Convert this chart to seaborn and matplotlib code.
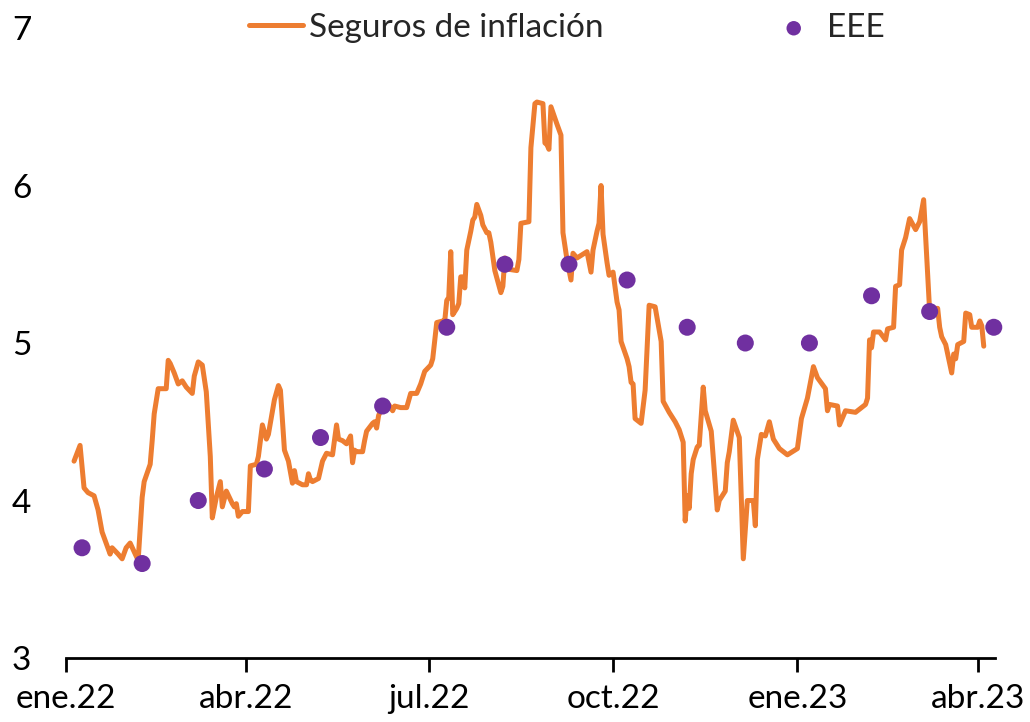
import matplotlib
matplotlib.use("Agg")
import matplotlib.pyplot as plt
import pandas as pd
import seaborn as sns

# Daily inflation-swap implied expectation (days counted from 1 Jan 2022)
line_days = [4, 7, 9, 11, 14, 16, 18, 22, 23, 26, 28, 30, 32, 36, 38, 39, 42, 43, 44, 46,
             50, 51, 52, 54, 56, 58, 60, 63, 64, 66, 68, 70, 72, 73, 75, 77, 78, 80, 83, 84,
             85, 86, 88, 91, 92, 95, 96, 98, 100, 101, 104, 106, 107, 109, 111, 113, 114, 115, 118, 120,
             121, 122, 123, 126, 128, 130, 133, 135, 136, 138, 140, 142, 143, 144, 145, 148, 149, 150, 153, 154,
             155, 156, 158, 161, 163, 164, 167, 170, 172, 175, 177, 179, 182, 183, 185, 188, 189, 190, 191, 192,
             193, 195, 196, 197, 198, 199, 200, 202, 203, 204, 205, 207, 208, 210, 211, 212, 214, 217, 218, 219,
             220, 225, 226, 227, 231, 232, 234, 235, 238, 239, 240, 241, 242, 245, 247, 248, 250, 252, 253, 255,
             260, 262, 263, 265, 266, 267, 268, 270, 271, 272, 273, 275, 276, 277, 280, 281, 282, 283, 284, 287,
             289, 291, 294, 297, 298, 301, 304, 306, 308, 309, 310, 311, 312, 313, 315, 316, 318, 319, 322, 325,
             326, 329, 330, 331, 333, 336, 338, 340, 343, 344, 345, 347, 349, 351, 353, 356, 360, 365, 367, 370,
             373, 375, 379, 380, 381, 385, 386, 389, 394, 399, 400, 401, 402, 403, 406, 409, 410, 413, 414, 416,
             417, 419, 421, 424, 426, 428, 430, 431, 432, 435, 436, 437, 439, 440, 442, 443, 444, 445, 448, 449,
             451, 452, 455, 456, 457, 458]
line_values = [4.25, 4.35, 4.08, 4.05, 4.03, 3.94, 3.80, 3.66, 3.70, 3.66, 3.63, 3.70, 3.73, 3.62, 4.02, 4.12, 4.23, 4.38, 4.55, 4.71,
               4.71, 4.89, 4.87, 4.81, 4.74, 4.76, 4.72, 4.68, 4.79, 4.88, 4.86, 4.69, 4.28, 3.89, 4.02, 4.12, 3.96, 4.06, 3.98, 3.96,
               3.98, 3.90, 3.93, 3.93, 4.22, 4.23, 4.28, 4.48, 4.39, 4.42, 4.64, 4.73, 4.70, 4.32, 4.25, 4.11, 4.19, 4.12, 4.10, 4.10,
               4.17, 4.13, 4.12, 4.14, 4.25, 4.30, 4.29, 4.48, 4.39, 4.38, 4.36, 4.41, 4.24, 4.32, 4.31, 4.31, 4.38, 4.44, 4.49, 4.50,
               4.46, 4.54, 4.60, 4.61, 4.57, 4.60, 4.59, 4.59, 4.68, 4.68, 4.74, 4.82, 4.86, 4.90, 5.13, 5.14, 5.14, 5.27, 5.29, 5.58,
               5.18, 5.22, 5.25, 5.42, 5.42, 5.35, 5.59, 5.71, 5.78, 5.80, 5.88, 5.81, 5.75, 5.70, 5.70, 5.64, 5.46, 5.32, 5.36, 5.54,
               5.47, 5.46, 5.53, 5.76, 5.77, 6.24, 6.52, 6.53, 6.52, 6.27, 6.26, 6.23, 6.50, 6.39, 6.32, 5.70, 5.53, 5.40, 5.57, 5.54,
               5.58, 5.45, 5.59, 5.71, 5.76, 6.00, 5.69, 5.51, 5.43, 5.44, 5.45, 5.26, 5.21, 5.01, 4.90, 4.85, 4.75, 4.74, 4.52, 4.49,
               4.70, 5.24, 5.23, 5.01, 4.63, 4.56, 4.50, 4.45, 4.37, 3.87, 4.03, 3.95, 4.17, 4.26, 4.34, 4.35, 4.72, 4.57, 4.44, 3.94,
               4.00, 4.06, 4.24, 4.31, 4.51, 4.40, 3.63, 4.00, 4.00, 3.84, 4.26, 4.42, 4.41, 4.50, 4.39, 4.33, 4.29, 4.33, 4.52, 4.65,
               4.85, 4.78, 4.71, 4.57, 4.61, 4.60, 4.48, 4.57, 4.56, 4.61, 4.65, 5.02, 4.97, 5.07, 5.07, 5.02, 5.09, 5.10, 5.36, 5.37,
               5.59, 5.67, 5.79, 5.72, 5.77, 5.91, 5.44, 5.20, 5.22, 5.22, 5.10, 5.04, 4.99, 4.93, 4.81, 4.93, 4.90, 4.99, 5.01, 5.19,
               5.18, 5.10, 5.10, 5.14, 5.11, 4.98]

# Monthly expectations survey (EEE)
eee_days = [8, 38, 66, 99, 127, 158, 190, 219, 251, 280, 310, 339, 371, 402, 431, 463]
eee_values = [3.7, 3.6, 4.0, 4.2, 4.4, 4.6, 5.1, 5.5, 5.5, 5.4, 5.1, 5.0, 5.0, 5.3, 5.2, 5.1]

tick_dates = ["2022-01-01", "2022-04-01", "2022-07-01", "2022-10-01", "2023-01-01", "2023-04-01"]
tick_labels = ["ene.22", "abr.22", "jul.22", "oct.22", "ene.23", "abr.23"]
y_ticks = [3, 4, 5, 6, 7]

ORANGE = "#ED7D31"
PURPLE = "#7030A0"

sns.set_style("white")
plt.rcParams["font.family"] = ["Lato", "DejaVu Sans"]

start = pd.Timestamp("2022-01-01")
line_dates = start + pd.to_timedelta(line_days, unit="D")
eee_dates = start + pd.to_timedelta(eee_days, unit="D")

fig = plt.figure(figsize=(10.3, 7.22), dpi=100)
ax = fig.add_axes([0.0641, 0.0886, 0.9019, 0.8726])

sns.lineplot(x=line_dates, y=line_values, ax=ax, color=ORANGE, linewidth=3.6,
             label="Seguros de inflación")
sns.scatterplot(x=eee_dates, y=eee_values, ax=ax, color=PURPLE, s=150,
                edgecolor="none", linewidth=0, zorder=3, clip_on=False, label="EEE")

ax.set_ylim(3, 7)
ax.set_xlim(start, start + pd.Timedelta(days=463.6))
ax.set_yticks(y_ticks)
ax.set_yticklabels([str(v) for v in y_ticks])
ax.set_xticks(pd.to_datetime(tick_dates))
ax.set_xticklabels(tick_labels)
ax.set_xlabel("")
ax.set_ylabel("")

for side in ("left", "top", "right"):
    ax.spines[side].set_visible(False)
ax.spines["bottom"].set_color("black")
ax.spines["bottom"].set_linewidth(2)

ax.tick_params(axis="x", bottom=True, length=10, width=2, color="black",
               direction="out", pad=9, labelsize=24, labelcolor="black")
ax.tick_params(axis="y", left=False, length=0, pad=25, labelsize=24, labelcolor="black")

ax.legend(loc="center", bbox_to_anchor=(0.5505, 0.9612), bbox_transform=fig.transFigure,
          ncol=2, frameon=False, fontsize=24, handlelength=1.6, handletextpad=0.2,
          columnspacing=4.9, markerscale=0.85, borderaxespad=0, borderpad=0)

fig.savefig("out.png", dpi=100)
